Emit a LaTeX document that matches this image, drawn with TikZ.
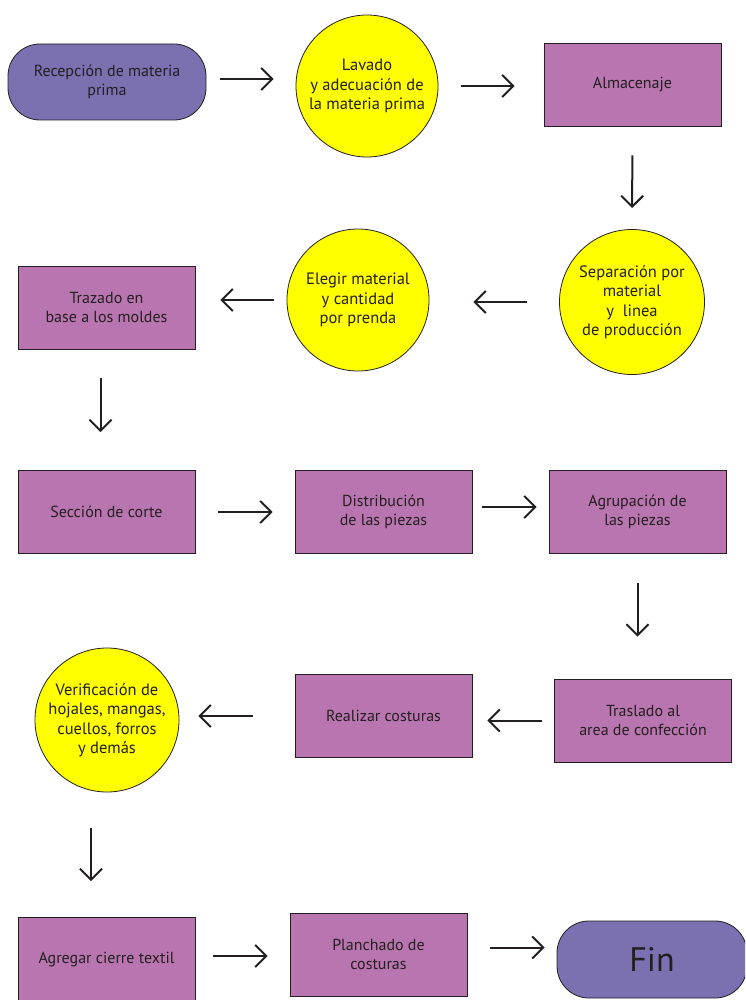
\documentclass[tikz,border=0pt]{standalone}
\usepackage{fontspec}
\setmainfont{PT Sans}
\usepackage{tikz}
\usetikzlibrary{arrows.meta,positioning}

\definecolor{lila}{RGB}{123,112,176}
\definecolor{rosa}{RGB}{185,117,176}
\definecolor{amarillo}{RGB}{255,255,0}
\definecolor{tinta}{RGB}{35,31,32}

\tikzset{
  caja/.style={draw=tinta, line width=0.8pt, fill=rosa, minimum width=177pt, minimum height=83pt,
    inner sep=0pt, align=center, text=tinta, font=\fontsize{16}{19.5}\selectfont},
  inicio/.style={caja, fill=lila, rounded corners=32pt, minimum width=198pt, minimum height=76pt},
  bola/.style={circle, draw=tinta, line width=0.8pt, fill=amarillo, minimum size=142pt,
    inner sep=0pt, align=center, text=tinta, font=\fontsize{16.5}{19.5}\selectfont},
  flecha/.style={draw=tinta, line width=2pt, -{Straight Barb[length=11pt,width=22pt,line width=2pt]}}
}

\begin{document}
\begin{tikzpicture}[x=1pt,y=-1pt]
\clip (0,0) rectangle (745,1000);
\fill[white] (0,0) rectangle (745,1000);

% fila 1
\node (recep) at (107,82) [inicio] {Recepción de materia\\prima};
\node (lavado) at (367,86) [bola] {Lavado\\y adecuación de\\la materia prima};
\node (almac) at (632.5,84.5) [caja] {Almacenaje};

% fila 2
\node (separ) at (632,302) [bola, minimum size=145pt] {Separación por\\material\\y\ \ linea\\de producción};
\node (elegir) at (358,300) [bola] {Elegir material\\y cantidad\\por prenda};
\node (trazado) at (106.5,307.5) [caja] {Trazado en\\base a los moldes};

% fila 3
\node (corte) at (106.5,512) [caja] {Sección de corte};
\node (distrib) at (383.5,512) [caja] {Distribución\\de las piezas};
\node (agrup) at (637.5,512) [caja] {Agrupación de\\las piezas};

% fila 4
\node (traslado) at (643,720.5) [caja] {Traslado al\\area de confección};
\node (costuras) at (383.5,716) [caja] {Realizar costuras};
\node (verif) at (107,720) [bola, minimum size=144pt] {Verificación de\\hojales, mangas,\\cuellos, forros\\y demás};

% fila 5
\node (cierre) at (106.5,959) [caja] {Agregar cierre textil};
\node (planch) at (378.5,954.5) [caja] {Planchado de\\costuras};
\node (fin) at (652,959.5) [inicio, minimum width=190pt, minimum height=77pt, font=\fontsize{34}{38}\selectfont] {Fin};

% flechas
\draw[flecha, shorten <=14pt, shorten >=22pt] ([yshift=3pt]recep.east) -- ([yshift=3pt]recep.east -| lavado.west);
\draw[flecha, shorten <=23pt, shorten >=29pt] (lavado.east) -- (lavado.east -| almac.west);
\draw[flecha, shorten <=29pt, shorten >=21pt] (almac.south) -- (separ.north);
\draw[flecha, shorten <=32pt, shorten >=44pt] (separ.west) -- (separ.west -| elegir.east);
\draw[flecha, shorten <=13pt, shorten >=25pt] (elegir.west) -- (elegir.west -| trazado.east);
\draw[flecha, shorten <=29pt, shorten >=38pt] ([xshift=-6pt]trazado.south) -- ([xshift=-6pt]corte.north);
\draw[flecha, shorten <=23pt, shorten >=22pt] (corte.east) -- (distrib.west);
\draw[flecha, shorten <=10pt, shorten >=12pt] ([yshift=5pt]distrib.east) -- ([yshift=5pt]agrup.west);
\draw[flecha, shorten <=29pt, shorten >=42pt] (agrup.south) -- (agrup.south |- traslado.north);
\draw[flecha, shorten <=12pt, shorten >=15pt] (traslado.west) -- (traslado.west -| costuras.east);
\draw[flecha, shorten <=42pt, shorten >=19pt] (costuras.west) -- (costuras.west -| verif.east);
\draw[flecha, shorten <=36pt, shorten >=36pt] ([xshift=-16pt]verif.south) -- ([xshift=-16pt]verif.south |- cierre.north);
\draw[flecha, shorten <=18pt, shorten >=22pt] ([yshift=3pt]cierre.east) -- ([yshift=3pt]cierre.east -| planch.west);
\draw[flecha, shorten <=23pt, shorten >=12pt] ([yshift=7pt]planch.east) -- ([yshift=7pt]planch.east -| fin.west);
\end{tikzpicture}
\end{document}
